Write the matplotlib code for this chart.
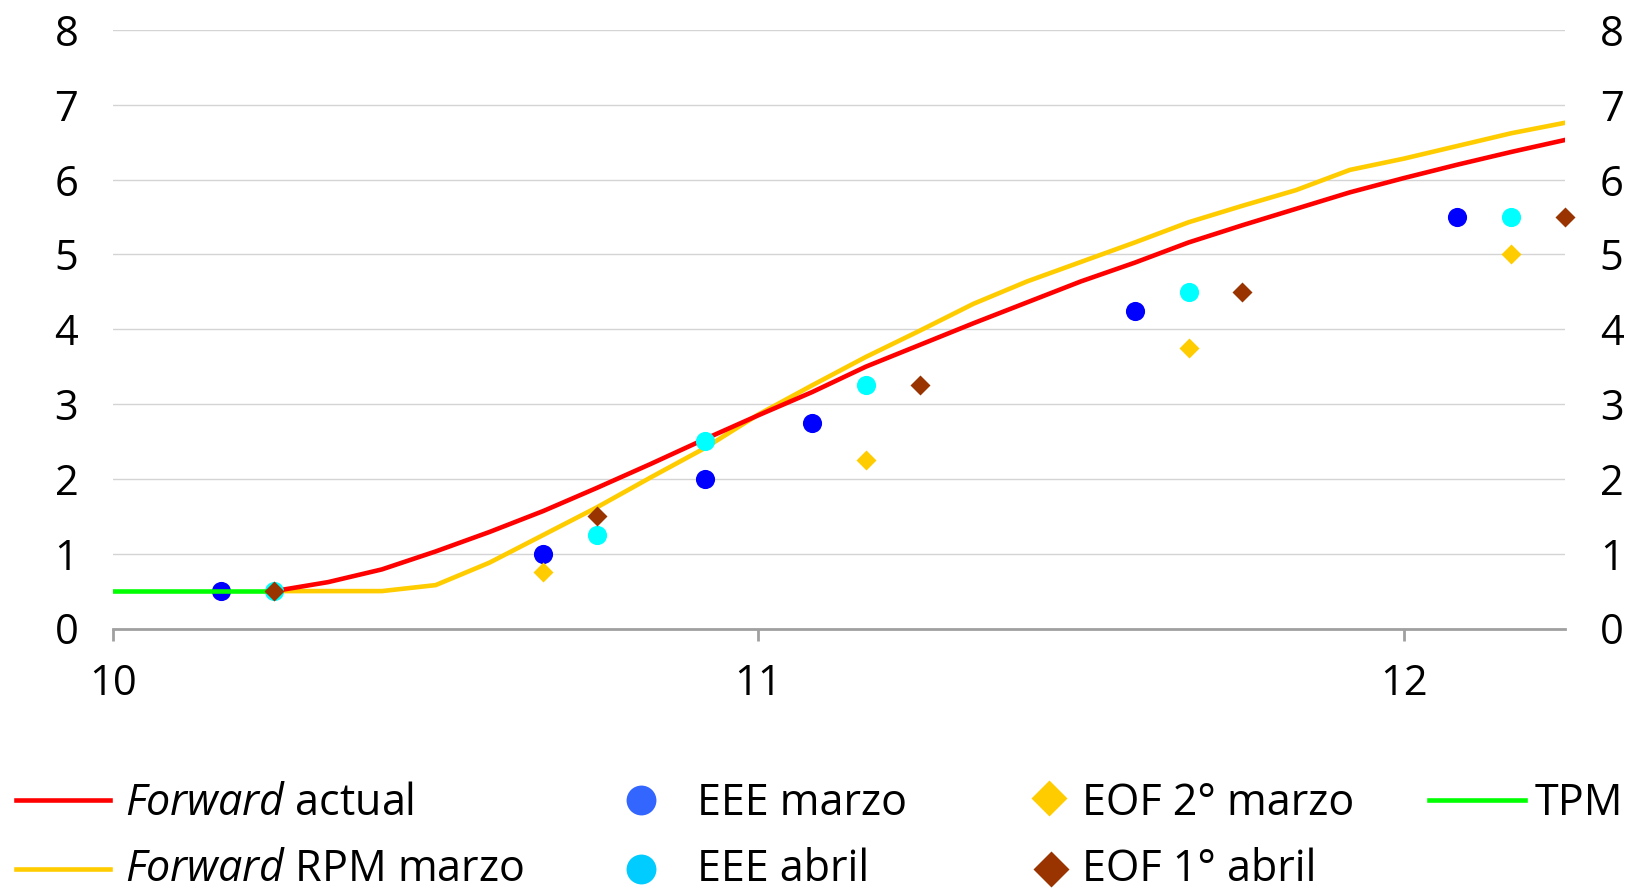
import matplotlib
matplotlib.use("Agg")
import matplotlib.pyplot as plt
from matplotlib.lines import Line2D

# ---------------- data ----------------
line_months = list(range(3, 28))
forward_actual = [0.50, 0.62, 0.79, 1.03, 1.29, 1.57, 1.88, 2.20, 2.53, 2.85, 3.16,
                  3.50, 3.79, 4.08, 4.36, 4.64, 4.89, 5.16, 5.39, 5.61, 5.83, 6.02,
                  6.20, 6.37, 6.53]
forward_rpm_marzo = [0.50, 0.50, 0.50, 0.58, 0.88, 1.25, 1.62, 2.02, 2.41, 2.86, 3.25,
                     3.63, 3.98, 4.34, 4.64, 4.90, 5.16, 5.43, 5.65, 5.86, 6.13, 6.28,
                     6.45, 6.62, 6.76]
tpm_months = [0, 1, 2, 3]
tpm_values = [0.5, 0.5, 0.5, 0.5]

eee_marzo_months = [2, 8, 11, 13, 19, 25]
eee_marzo_values = [0.5, 1.0, 2.0, 2.75, 4.25, 5.5]
eee_abril_months = [3, 9, 11, 14, 20, 26]
eee_abril_values = [0.5, 1.25, 2.5, 3.25, 4.5, 5.5]
eof2_marzo_months = [8, 14, 20, 26]
eof2_marzo_values = [0.75, 2.25, 3.75, 5.0]
eof1_abril_months = [3, 9, 15, 21, 27]
eof1_abril_values = [0.5, 1.5, 3.25, 4.5, 5.5]

x_ticks = [10, 11, 12]
x_ticklabels = ["10", "11", "12"]
y_ticks = list(range(0, 9))

base_year = 10


def to_x(months):
    return [base_year + m / 12 for m in months]


# ---------------- style ----------------
FONT = "Open Sans"
plt.rcParams["font.family"] = [FONT, "DejaVu Sans"]
plt.rcParams["mathtext.fontset"] = "custom"
plt.rcParams["mathtext.it"] = FONT + ":italic"
plt.rcParams["mathtext.rm"] = FONT

W, H = 1636, 891
fig = plt.figure(figsize=(W / 100, H / 100), dpi=100)
ax = fig.add_axes([113 / W, 1 - 628.5 / H, (1565 - 113) / W, (628.5 - 30) / H])

RED = "#FF0000"
YEL = "#FFCC00"
GRN = "#00FF00"
BLUE = "#0000FF"
CYAN = "#00FFFF"
BROWN = "#993300"
LW = 3.3

ax.plot(to_x(line_months), forward_actual, color=RED, lw=LW, zorder=3,
        solid_joinstyle="round")
ax.plot(to_x(line_months), forward_rpm_marzo, color=YEL, lw=LW, zorder=2,
        solid_joinstyle="round")
ax.plot(to_x(eee_marzo_months), eee_marzo_values, "o", color=BLUE, ms=13.8,
        mec="none", zorder=4, clip_on=False)
ax.plot(to_x(eee_abril_months), eee_abril_values, "o", color=CYAN, ms=13.8,
        mec="none", zorder=4, clip_on=False)
ax.plot(to_x(eof2_marzo_months), eof2_marzo_values, "D", color=YEL, ms=10,
        mec="none", zorder=4, clip_on=False)
ax.plot(to_x(tpm_months), tpm_values, color=GRN, lw=LW, zorder=5)
ax.plot(to_x(eof1_abril_months), eof1_abril_values, "D", color=BROWN, ms=10,
        mec="none", zorder=6, clip_on=False)

ax.set_xlim(10, 10 + 27 / 12)
ax.set_ylim(0, 8)
ax.set_xticks(x_ticks)
ax.set_xticklabels(x_ticklabels)
ax.set_yticks(y_ticks)

for s in ["left", "right", "top"]:
    ax.spines[s].set_visible(False)
ax.spines["bottom"].set_color("#A0A0A0")
ax.spines["bottom"].set_linewidth(2.0)
ax.spines["bottom"].set_zorder(1)

ax.yaxis.grid(True, color="#D4D4D4", lw=1.0)
ax.set_axisbelow(True)

ax.tick_params(axis="x", direction="out", length=8.6, width=2.0, color="#A0A0A0",
               labelsize=30, pad=16)
ax.tick_params(axis="y", left=False, right=False, labelleft=True, labelright=True,
               labelsize=30, pad=21.5)

# ---------------- legend (manual, figure pixel coordinates) ----------------
LFS = 31


def fx(px):
    return px / W


def fy(py):
    return 1 - py / H


def leg_line(x0, x1, y, color):
    fig.add_artist(Line2D([fx(x0), fx(x1)], [fy(y), fy(y)], color=color, lw=LW,
                          transform=fig.transFigure))


def leg_marker(x, y, marker, color, ms):
    fig.add_artist(Line2D([fx(x)], [fy(y)], marker=marker, color=color, ms=ms,
                          mec="none", ls="none", transform=fig.transFigure))


def leg_text(x, y, s, dy):
    fig.text(fx(x), fy(y + dy), s, fontsize=LFS, ha="left", va="center")


r1, r2 = 800, 869
d1, d2 = 4, 1
leg_line(16, 110, r1, RED)
leg_text(125, r1, r"$\mathit{Forward}$ actual", d1)
leg_line(16, 110, r2, YEL)
leg_text(125, r2, r"$\mathit{Forward}$ RPM marzo", d2)

leg_marker(641, r1, "o", "#3366FF", 21.5)
leg_text(697, r1, "EEE marzo", d1)
leg_marker(641, r2, "o", "#00CCFF", 21.5)
leg_text(697, r2, "EEE abril", d2)

leg_marker(1049, r1 - 2, "D", YEL, 18)
leg_text(1082, r1, "EOF 2° marzo", d1)
leg_marker(1051, r2, "D", BROWN, 18)
leg_text(1082, r2, "EOF 1° abril", d2)

leg_line(1429, 1525, r1, GRN)
leg_text(1535, r1, "TPM", d1)

fig.savefig("out.png", dpi=100)
